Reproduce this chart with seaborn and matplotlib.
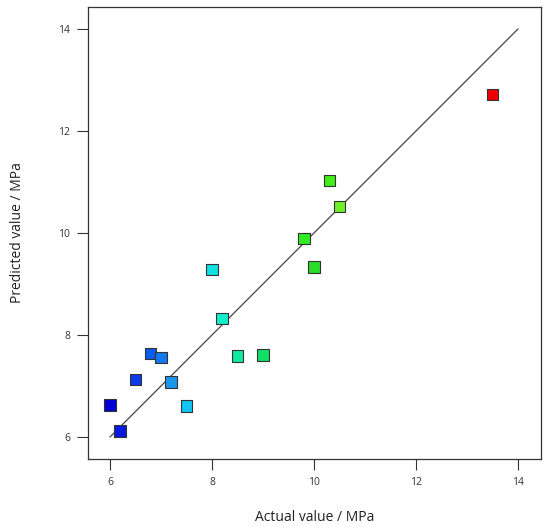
import matplotlib
matplotlib.use("Agg")
import matplotlib.pyplot as plt
import seaborn as sns
import pandas as pd

actual = [6.0, 6.2, 6.5, 6.8, 7.0, 7.2, 7.5, 8.0, 8.2, 8.5, 9.0, 9.8, 10.0, 10.3, 10.5, 13.5]
predicted = [6.63, 6.12, 7.13, 7.64, 7.56, 7.08, 6.61, 9.28, 8.32, 7.59, 7.61, 9.89, 9.33, 11.03, 10.52, 12.72]
point_colors = ['#0000d0', '#0818e0', '#0a3cec', '#0a5cee', '#1478ee', '#1896ec', '#10c4f4',
                '#10e0e4', '#10eecc', '#10ea9c', '#10e066', '#30ec24', '#28dc28', '#40ee18',
                '#70ee28', '#ee0000']
ticks = [6, 8, 10, 12, 14]

df = pd.DataFrame({'actual': actual, 'predicted': predicted})

sns.set_style('white')
plt.rcParams['font.family'] = ['Open Sans', 'DejaVu Sans']

fig = plt.figure(figsize=(5.5, 5.27), dpi=100)
ax = fig.add_axes([0.16, 0.129, 0.8236, 0.8577])

# 1:1 reference line
ax.plot([6, 14], [6, 14], color='#444444', lw=0.9, zorder=1)
sns.scatterplot(data=df, x='actual', y='predicted', ax=ax, marker='s', s=68,
                c=point_colors, edgecolor='#333333', linewidth=0.8, zorder=2)

ax.set_xlim(5.57, 14.45)
ax.set_ylim(5.57, 14.43)
ax.set_xticks(ticks)
ax.set_yticks(ticks)
ax.tick_params(axis='both', direction='out', length=8, width=0.8, color='#333333',
               labelsize=7.5, labelcolor='#333333', pad=5, left=True, bottom=True)
for sp in ax.spines.values():
    sp.set_color('#333333')
    sp.set_linewidth(0.9)

ax.set_xlabel('Actual value / MPa', fontsize=10, color='#222222', labelpad=16)
ax.set_ylabel('Predicted value / MPa', fontsize=10, color='#222222', labelpad=24)

fig.savefig('out.png', dpi=100)
